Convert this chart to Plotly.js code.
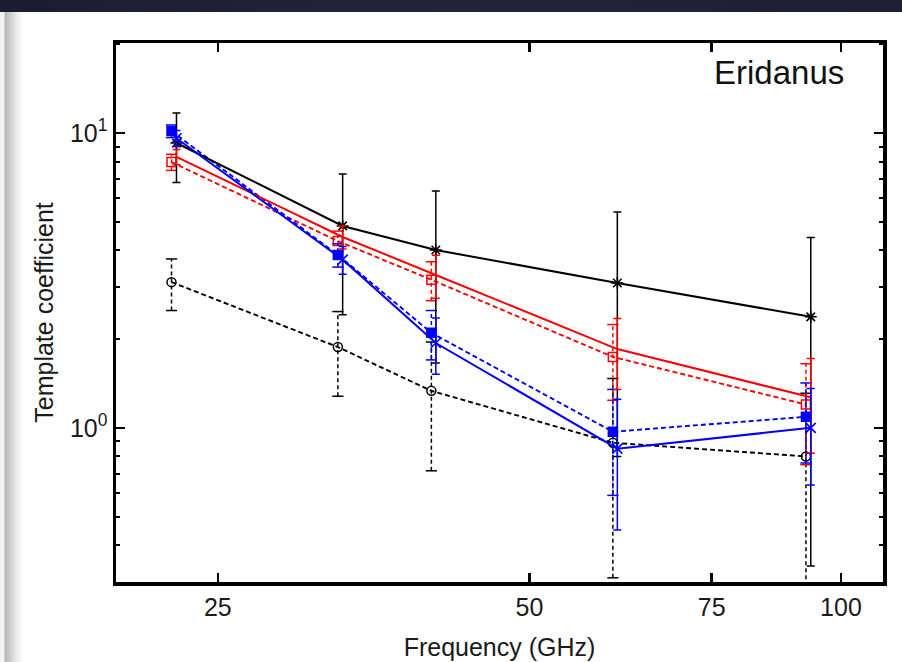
<!DOCTYPE html>
<html>
<head>
<meta charset="utf-8">
<script src="https://cdn.plot.ly/plotly-3.0.1.min.js"></script>
<style>
  html, body { margin:0; padding:0; width:902px; height:662px; overflow:hidden; background:#ffffff; }
  #topband { position:absolute; left:0; top:0; width:902px; height:12px;
    background:linear-gradient(90deg,#1c1d31,#25233a 50%,#1e1f33); }
  #leftband { position:absolute; left:0; top:12px; width:24px; height:650px;
    background:linear-gradient(90deg,#f2f2f2 0px,#f2f2f2 4px,#b4b4b4 5px,#c8c8c8 9px,#ececec 17px,#ffffff 23px); }
  #plot { position:absolute; left:0; top:0; width:902px; height:662px; }
</style>
</head>
<body>
<div id="topband"></div>
<div id="leftband"></div>
<div id="plot"></div>
<script>
// Frequencies (GHz): solid series at band centres, dashed series slightly offset
const freqSolid  = [22.8, 33.0, 40.6, 60.8, 93.5];
const freqDashed = [22.55, 32.65, 40.2, 60.2, 92.5];

// Template coefficients and 1-sigma errors
const blackSolid     = [9.25, 4.84, 4.01, 3.10, 2.38];
const blackSolidErr  = [2.45, 2.42, 2.35, 2.30, 2.04];
const blackDashed    = [3.12, 1.88, 1.335, 0.89, 0.80];
const blackDashedErr = [0.62, 0.60, 0.62, 0.58, 0.51];
const redSolid       = [8.3, 4.44, 3.30, 1.85, 1.27];
const redSolidErr    = [0.5, 0.4, 0.55, 0.5, 0.45];
const redDashed      = [7.97, 4.30, 3.18, 1.74, 1.20];
const redDashedErr   = [0.5, 0.35, 0.48, 0.5, 0.45];
const blueSolid      = [9.6, 3.72, 1.94, 0.85, 1.00];
const blueSolidErr   = [0.6, 0.4, 0.42, 0.4, 0.36];
const blueDashed     = [10.15, 3.86, 2.10, 0.97, 1.09];
const blueDashedErr  = [0.5, 0.35, 0.4, 0.38, 0.33];

const xTickVals = [25, 50, 75, 100];
const xTickText = ['25', '50', '75', '100'];
const yTickVals = [1, 10];
const yTickText = ['10<sup>0</sup>', '10<sup>1</sup>'];
const yMinorVals = [0.3,0.4,0.5,0.6,0.7,0.8,0.9,2,3,4,5,6,7,8,9,20];

const traces = [];

function solidSeries(x, y, err, color, symbol, msize) {
  traces.push({
    x: x, y: y, type: 'scatter', mode: symbol ? 'lines+markers' : 'lines',
    line: {color: color, width: 2},
    marker: {symbol: symbol || 'circle', size: msize || 8, color: color,
             line: {color: color, width: 1.6}},
    error_y: {type: 'data', array: err, visible: true, color: color,
              thickness: 1.5, width: 4},
    showlegend: false, hoverinfo: 'skip'
  });
}

function dashedSeries(x, y, err, color, symbol, msize) {
  const ex = [], ey = [], cx = [], cy = [];
  for (let i = 0; i < x.length; i++) {
    ex.push(x[i], x[i], null);
    ey.push(Math.max(y[i] - err[i], 0.25), y[i] + err[i], null);
    cx.push(x[i], x[i]);
    cy.push(y[i] - err[i], y[i] + err[i]);
  }
  traces.push({
    x: ex, y: ey, type: 'scatter', mode: 'lines',
    line: {color: color, width: 1.5, dash: '4px,3px'},
    showlegend: false, hoverinfo: 'skip'
  });
  traces.push({
    x: cx, y: cy, type: 'scatter', mode: 'markers',
    marker: {symbol: 'line-ew-open', size: 8, color: color, line: {color: color, width: 1.5}},
    showlegend: false, hoverinfo: 'skip'
  });
  traces.push({
    x: x, y: y, type: 'scatter', mode: 'lines+markers',
    line: {color: color, width: 1.9, dash: '5px,3px'},
    marker: {symbol: symbol, size: msize, color: color, line: {color: color, width: 1.5}},
    showlegend: false, hoverinfo: 'skip'
  });
}

dashedSeries(freqDashed, blackDashed, blackDashedErr, '#000000', 'circle-open', 9);
dashedSeries(freqDashed, redDashed, redDashedErr, '#ff0000', 'square-open', 9);
dashedSeries(freqDashed, blueDashed, blueDashedErr, '#0000ff', 'square', 9);
solidSeries(freqSolid, blackSolid, blackSolidErr, '#000000', 'asterisk-open', 10);
solidSeries(freqSolid, redSolid, redSolidErr, '#ff0000', null);
solidSeries(freqSolid, blueSolid, blueSolidErr, '#0000ff', 'x-thin-open', 10);

const fam = '"Liberation Sans", Arial, Helvetica, sans-serif';

const layout = {
  width: 902, height: 662,
  margin: {l: 116, r: 19, t: 43, b: 80},
  paper_bgcolor: 'rgba(0,0,0,0)',
  plot_bgcolor: '#ffffff',
  showlegend: false,
  font: {family: fam, color: '#1a1a1a'},
  xaxis: {
    type: 'log', range: [Math.log10(19.93), Math.log10(109.8)],
    tickmode: 'array', tickvals: xTickVals, ticktext: xTickText,
    ticks: 'inside', ticklen: 9, tickwidth: 2.5, tickcolor: '#000',
    showline: true, linewidth: 3.5, linecolor: '#000', mirror: 'allticks',
    showgrid: false, zeroline: false,
    tickfont: {family: fam, size: 25, color: '#1a1a1a'},
    title: {text: 'Frequency (GHz)', font: {family: fam, size: 25, color: '#1a1a1a'}, standoff: 20}
  },
  yaxis: {
    type: 'log', range: [Math.log10(0.3), Math.log10(20.2)],
    tickmode: 'array', tickvals: yTickVals, ticktext: yTickText,
    ticks: 'inside', ticklen: 9, tickwidth: 2.5, tickcolor: '#000',
    minor: {tickmode: 'array', tickvals: yMinorVals, ticks: 'inside', ticklen: 4, tickwidth: 2, tickcolor: '#000', showgrid: false},
    showline: true, linewidth: 3.5, linecolor: '#000', mirror: 'allticks',
    showgrid: false, zeroline: false,
    tickfont: {family: fam, size: 25, color: '#1a1a1a'},
    title: {text: 'Template coefficient', font: {family: fam, size: 25, color: '#1a1a1a'}, standoff: 10}
  },
  annotations: [{
    text: 'Eridanus', xref: 'paper', yref: 'paper', x: 0.952, y: 0.946,
    xanchor: 'right', yanchor: 'middle', showarrow: false,
    font: {family: fam, size: 33, color: '#111'}
  }]
};

Plotly.newPlot('plot', traces, layout, {displayModeBar: false, staticPlot: true});
</script>
</body>
</html>
